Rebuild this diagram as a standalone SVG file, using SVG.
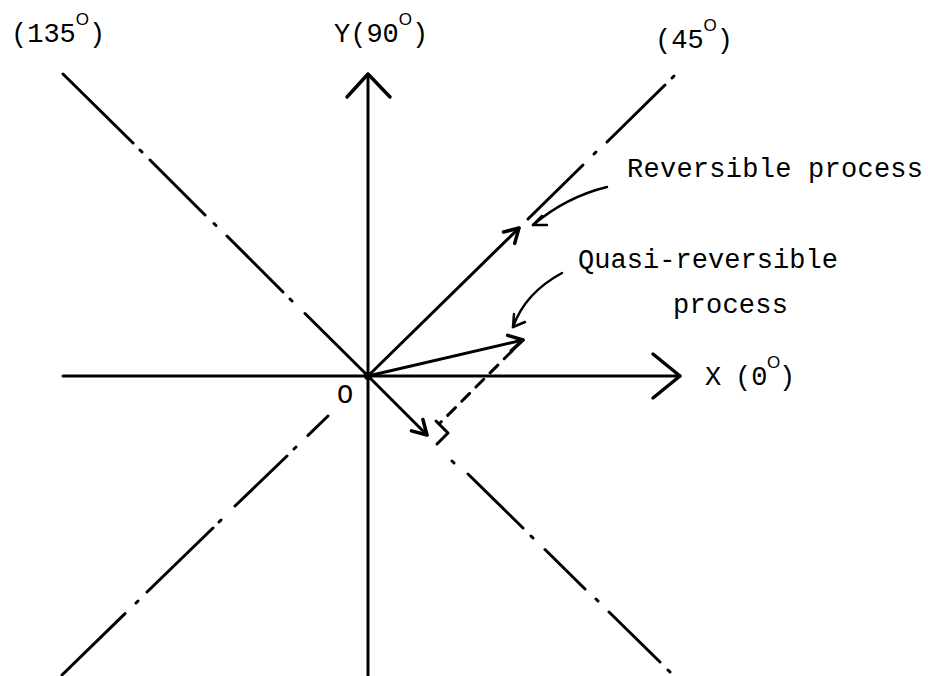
<svg xmlns="http://www.w3.org/2000/svg" width="928" height="676" viewBox="0 0 928 676">
<style>
.ln{stroke:#000;stroke-width:3;fill:none;stroke-linecap:round;stroke-linejoin:round}
.th{stroke:#000;stroke-width:2.5;fill:none;stroke-linecap:round;stroke-linejoin:round}
.ah{stroke:#000;stroke-width:3.5;fill:none;stroke-linecap:round;stroke-linejoin:round}
.lbl{font-family:"Liberation Mono","DejaVu Sans Mono",monospace;font-size:27px;fill:#000}
.sup{font-family:"Liberation Sans","DejaVu Sans",sans-serif;font-size:17px}
</style>
<rect width="928" height="676" fill="#fff"/>
<g id="connectors">
  <g id="x-axis">
    <path class="ln" d="M63,376 L680,376"/>
    <path class="ah" d="M653,354 L680,376 L653,398"/>
  </g>
  <g id="y-axis">
    <path class="ln" d="M368,676 L368,74"/>
    <path class="ah" d="M347,97 L368,74 L390,97"/>
  </g>
  <g id="line-135">
    <path class="ln" d="M63,74 L133,143 M140,150 L142,152 M150,160 L205,215 M214,223.5 L216,225.5 M227,236 L283,292 M290,299 L292,301 M305,313.5 L368,376"/>
    <path class="ln" d="M452,461 L454,463 M468,474 L523,528 M531,536 L533,538 M545,549.5 L585,589 M596,599 L598,601 M609,612 L660,662 M668,670 L670,672"/>
  </g>
  <g id="line-45">
    <path class="ln" d="M62,675 L125,613.6 M136,603 L138,601 M147,592 L213,528 M219,522 L221,520 M235,506 L287,456 M294,449 L296,447 M308,435.4 L328,416"/>
    <path class="ln" d="M528,219 L583,165 M594,154 L596,152 M607,142 L665,85 M672,78 L674,76"/>
  </g>
  <g id="vector-reversible">
    <path class="ln" d="M368,376 L519,228"/>
    <path class="ah" d="M503.5,232 L519,228 L514.7,243.4"/>
  </g>
  <g id="vector-quasi">
    <path class="ln" d="M368,376 L523,340"/>
    <path class="ah" d="M507.7,335.3 L523,340 L511.3,350.9"/>
  </g>
  <g id="vector-projection">
    <path class="ln" d="M368,376 L427,435"/>
    <path class="ah" d="M422.9,419.5 L427,435 L411.5,430.9"/>
  </g>
  <g id="perpendicular">
    <path class="ln" stroke-dasharray="11 9" d="M512,351 L440,423"/>
    <path class="ln" d="M436,421 L448,433 L437,444"/>
  </g>
  <g id="leader-reversible">
    <path class="th" d="M607,187 Q566,197 533,225"/>
    <path class="th" d="M542,216 L533,225 L547,225"/>
  </g>
  <g id="leader-quasi">
    <path class="th" d="M562,273 Q525,293 513,327"/>
    <path class="th" d="M514,314 L513,327 L525,322"/>
  </g>
  <circle cx="368" cy="376" r="4" fill="#000"/>
</g>
<g id="labels">
  <g id="label-135"><text class="lbl" x="11" y="42">(135<tspan class="sup" dy="-17">O</tspan><tspan dy="17">)</tspan></text></g>
  <g id="label-y"><text class="lbl" x="334" y="42">Y(90<tspan class="sup" dy="-17">O</tspan><tspan dy="17">)</tspan></text></g>
  <g id="label-45"><text class="lbl" x="655" y="48">(45<tspan class="sup" dy="-17">O</tspan><tspan dy="17">)</tspan></text></g>
  <g id="label-x"><text class="lbl" y="385"><tspan x="705">X</tspan><tspan x="735">(0</tspan><tspan class="sup" x="767" dy="-17">O</tspan><tspan x="779" dy="17">)</tspan></text></g>
  <g id="label-o"><text class="lbl" x="337" y="403">O</text></g>
  <g id="label-reversible"><text class="lbl" x="627" y="177" textLength="296">Reversible process</text></g>
  <g id="label-quasi"><text class="lbl" x="578" y="268" textLength="260">Quasi-reversible</text><text class="lbl" x="673" y="313" textLength="115">process</text></g>
</g>
</svg>
